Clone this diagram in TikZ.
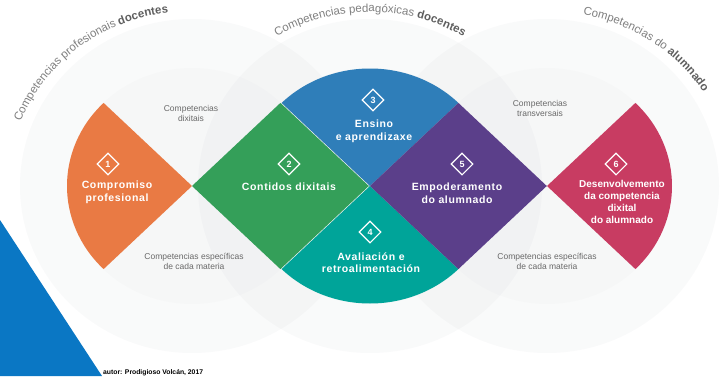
\documentclass[tikz,border=0pt]{standalone}
\usepackage{fontspec}
\setmainfont{Liberation Sans}
\newfontfamily\tagfont[LetterSpace=6]{Liberation Sans}
\usetikzlibrary{shapes.geometric,decorations.text}

\definecolor{ringgrey}{RGB}{90,100,120}
\definecolor{orangeseg}{RGB}{233,122,68}
\definecolor{greenseg}{RGB}{52,159,89}
\definecolor{blueseg}{RGB}{47,126,185}
\definecolor{tealseg}{RGB}{0,164,153}
\definecolor{purpleseg}{RGB}{91,63,138}
\definecolor{redseg}{RGB}{200,60,98}
\definecolor{cornerblue}{RGB}{10,119,196}
\definecolor{notegrey}{RGB}{105,105,105}
\definecolor{arcgrey}{RGB}{128,128,128}
\definecolor{arcdark}{RGB}{95,95,95}

\newcommand\arcfont{\fontsize{11.5}{13}\selectfont\color{arcgrey}}
\newcommand\arcbold{\fontsize{11.5}{13}\selectfont\bfseries\color{arcdark}}

\begin{document}
\begin{tikzpicture}[x=1pt,y=1pt,
    ring/.style={fill=ringgrey,fill opacity=.03},
    core/.style={fill=ringgrey,fill opacity=.015},
    badge/.style={diamond,draw=white,line width=1.1pt,minimum width=22pt,
      minimum height=22pt,inner sep=0pt,text=white,
      font=\bfseries\fontsize{9}{9}\selectfont},
    tag/.style={text=white,align=center,
      font=\tagfont\bfseries\fontsize{10.5}{12.5}\selectfont},
    note/.style={text=notegrey,align=center,
      font=\fontsize{8.5}{10}\selectfont}]

        \useasboundingbox (0,0) rectangle (726,376);
        \fill [white] (0,0) rectangle (726,376);

        % faint circles
        \fill [ring] (192,190) ellipse [x radius=172, y radius=167];
        \fill [ring] (370,190) ellipse [x radius=172, y radius=167];
        \fill [ring] (547,190) ellipse [x radius=172, y radius=167];
        \fill [core] (192,190) ellipse [x radius=125, y radius=118];
        \fill [core] (370,190) ellipse [x radius=125, y radius=118];
        \fill [core] (547,190) ellipse [x radius=125, y radius=118];

        % sectors and squares
        \begin{scope}[shift={(192,190)},yscale=.94]
          \fill [orangeseg] (0:0) -- (135:125) arc [start angle=135, end angle=225, radius=125] -- cycle ;
          \fill [greenseg] (0:0) -- (45:125) -- (0:176.8) -- (-45:125) -- cycle ;
        \end{scope}
        \begin{scope}[shift={(370,190)},yscale=.94]
          \fill [blueseg] (0:0) -- (45:125) arc [start angle=45, end angle=135, radius=125] -- cycle ;
          \fill [tealseg] (0:0) -- (225:125) arc [start angle=225, end angle=315, radius=125] -- cycle ;
          \fill [purpleseg] (0:0) -- (45:125) -- (0:176.8) -- (-45:125) -- cycle ;
        \end{scope}
        \begin{scope}[shift={(547,190)},yscale=.94]
          \fill [redseg] (0:0) -- (-45:125) arc [start angle=-45, end angle=45, radius=125] -- cycle ;
        \end{scope}

        % texts round the circles
        \path [decorate, decoration={text along path, text align=center,
            text={|\arcfont|Competencias profesionais |\arcbold|docentes}}]
          (188,190) ++(170:180 and 174) arc [start angle=170, end angle=85, x radius=180, y radius=174] ;
        \path [decorate, decoration={text along path, text align=center,
            text={|\arcfont|Competencias pedagóxicas |\arcbold|docentes}}]
          (370,190) ++(130:182 and 174) arc [start angle=130, end angle=50, x radius=182, y radius=174] ;
        \path [decorate, decoration={text along path, text align=center,
            text={|\arcfont|Competencias do |\arcbold|alumnado}}]
          (550,190) ++(84:182 and 174) arc [start angle=84, end angle=28, x radius=182, y radius=174] ;

        % badges and labels
        \node [badge] (b1) at (108,212) {1} ;
        \node [badge] (b2) at (289,212) {2} ;
        \node [badge] (b3) at (373,276) {3} ;
        \node [badge] (b4) at (370,144) {4} ;
        \node [badge] (b5) at (462,212) {5} ;
        \node [badge] (b6) at (616,212) {6} ;

        \node [tag] (l1) at (117,183.5) {Compromiso\\profesional} ;
        \node [tag] (l2) at (289,189) {Contidos dixitais} ;
        \node [tag] (l3) at (374,244.5) {Ensino\\e aprendizaxe} ;
        \node [tag] (l4) at (371,113.5) {Avaliación e\\retroalimentación} ;
        \node [tag] (l5) at (457,183) {Empoderamento\\do alumnado} ;
        \node [text=white, align=center, font=\bfseries\fontsize{10}{12}\selectfont]
          (l6) at (622,174.5) {Desenvolvemento\\da competencia\\dixital\\do alumnado} ;

        \node [note] (n1) at (191,262.5) {Competencias\\dixitais} ;
        \node [note] (n2) at (540,268) {Competencias\\transversais} ;
        \node [note] (n3) at (194,115) {Competencias específicas\\de cada materia} ;
        \node [note] (n4) at (547,115) {Competencias específicas\\de cada materia} ;

        % corner
        \fill [cornerblue] (0,0) -- (0,156) -- (102,0) -- cycle ;
        \node [anchor=base west, inner sep=0pt, font=\bfseries\fontsize{6.8}{8}\selectfont]
          (src) at (103,2) {autor: Prodigioso Volcán, 2017} ;

\end{tikzpicture}
\end{document}
